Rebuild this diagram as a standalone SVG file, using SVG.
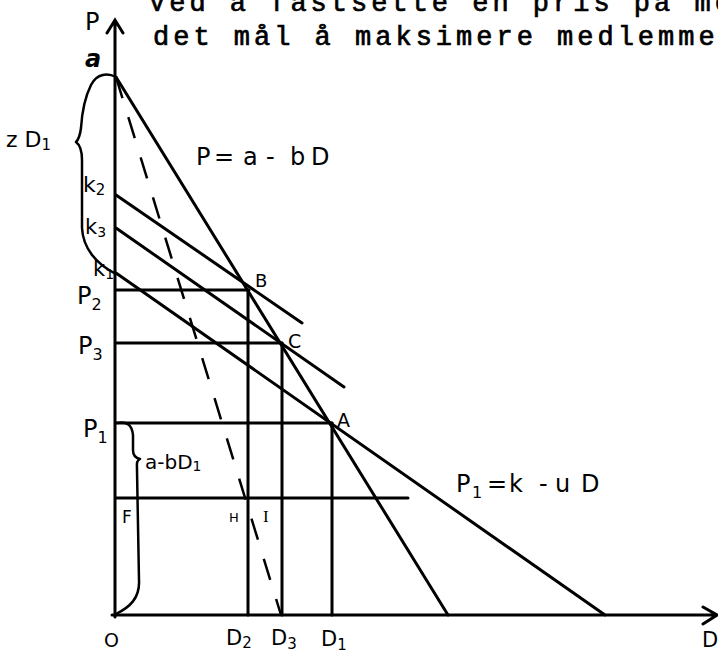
<svg xmlns="http://www.w3.org/2000/svg" width="718" height="653" viewBox="0 0 718 653">
<style>
.ln{stroke:#000;stroke-width:3;fill:none;stroke-linecap:round}
.thin{stroke:#000;stroke-width:2.5;fill:none;stroke-linecap:round;stroke-linejoin:round}
.dash{stroke:#000;stroke-width:2.5;fill:none;stroke-dasharray:22 20}
.lbl{font-family:"DejaVu Sans",sans-serif;fill:#000}
.tw{font-family:"Liberation Mono",monospace;font-size:27px;letter-spacing:4px;fill:#000;stroke:#000;stroke-width:0.7}
</style>
<rect width="718" height="653" fill="#fff"/>
<g id="heading">
<text class="tw" x="149" y="11">Ved å fastsette en pris på me</text>
<text class="tw" x="153" y="45">det mål å maksimere medlemme</text>
</g>
<g id="axes">
<path class="ln" d="M115,617 L115,21 M107,33 L115,20 L123,33"/>
<path class="ln" d="M112,615 L716,615 M703,607 L717,615 L703,624"/>
</g>
<g id="connectors">
<line class="ln" x1="116" y1="77" x2="448" y2="615"/>
<line class="dash" x1="116" y1="77" x2="281" y2="615"/>
<line class="ln" x1="116" y1="273" x2="605" y2="615"/>
<line class="ln" x1="116" y1="195" x2="302" y2="323"/>
<line class="ln" x1="116" y1="228" x2="344" y2="387"/>
<line class="ln" x1="116" y1="290" x2="249" y2="290"/>
<line class="ln" x1="116" y1="343" x2="282" y2="343"/>
<line class="ln" x1="116" y1="423" x2="332" y2="423"/>
<line class="ln" x1="116" y1="498" x2="408" y2="498"/>
<line class="ln" x1="248" y1="290" x2="248" y2="615"/>
<line class="ln" x1="282" y1="343" x2="282" y2="615"/>
<line class="ln" x1="332" y1="423" x2="332" y2="615"/>
<path class="thin" d="M116,77 C108,73 97,73 91,85 C85,97 82,112 81,128 C80,136 79,139 76,142 C80,145 82,150 82,160 L82,228 C83,248 96,264 116,274"/>
<path class="thin" d="M117,423 C127,421 132,425 133,435 L133,450 C133,455 135,458 140,459 C136,461 137,464 137,470 L139,580 C140,598 130,607 116,614"/>
</g>
<g id="labels" class="lbl">
<text x="85" y="30" font-size="24">P</text>
<text x="85" y="67" font-size="24" font-weight="bold" font-style="italic">a</text>
<text x="6" y="147" font-size="22">z D<tspan font-size="15" dy="3">1</tspan></text>
<text font-size="24" y="165"><tspan x="196">P</tspan><tspan x="214">=</tspan><tspan x="243">a</tspan><tspan x="266">-</tspan><tspan x="290">b</tspan><tspan x="311">D</tspan></text>
<text x="83" y="192" font-size="22">k<tspan font-size="15" dy="3">2</tspan></text>
<text x="85" y="234" font-size="21">k<tspan font-size="14" dy="3">3</tspan></text>
<text x="93" y="276" font-size="21">k<tspan font-size="14" dy="3">1</tspan></text>
<text x="255" y="287" font-size="18">B</text>
<text x="77" y="304" font-size="24">P<tspan font-size="16" dy="6">2</tspan></text>
<text x="288" y="348" font-size="19">C</text>
<text x="78" y="354" font-size="24">P<tspan font-size="16" dy="6">3</tspan></text>
<text x="337" y="427" font-size="19">A</text>
<text x="83" y="437" font-size="24">P<tspan font-size="16" dy="6">1</tspan></text>
<text x="145" y="469" font-size="20">a-bD<tspan font-size="14" dy="2">1</tspan></text>
<text font-size="24" y="492"><tspan x="456">P</tspan><tspan x="472" font-size="16" dy="6">1</tspan><tspan x="487" dy="-6">=</tspan><tspan x="509">k</tspan><tspan x="539">-</tspan><tspan x="555">u</tspan><tspan x="581">D</tspan></text>
<text x="122" y="523" font-size="17">F</text>
<text x="229" y="522" font-size="13">H</text>
<text x="263" y="522" font-size="17" font-family="Liberation Serif">I</text>
<text x="104" y="647" font-size="19">O</text>
<text x="226" y="645" font-size="21">D<tspan font-size="15" dy="3">2</tspan></text>
<text x="271" y="645" font-size="21">D<tspan font-size="15" dy="4">3</tspan></text>
<text x="321" y="646" font-size="21">D<tspan font-size="15" dy="4">1</tspan></text>
<text x="702" y="647" font-size="21">D</text>
</g>
</svg>
